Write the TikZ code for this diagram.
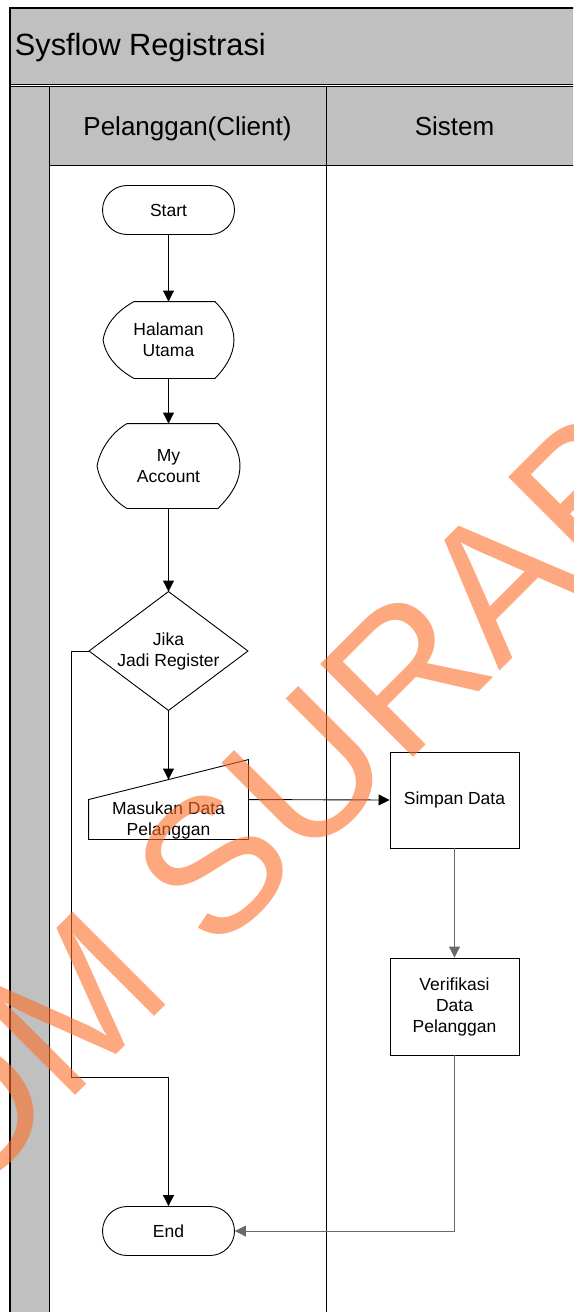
\documentclass[tikz,border=0pt]{standalone}
\usepackage{fontspec}
\setmainfont{Liberation Sans}
\usepackage{xcolor}
\usepackage{tikz}
\usetikzlibrary{arrows.meta,calc}

\definecolor{lanegray}{HTML}{C0C0C0}
\definecolor{lanegaris}{RGB}{105,105,105}
\definecolor{stempel}{RGB}{252,110,40}

\newcommand{\nodefont}{\fontsize{17.5}{21}\selectfont}
\newcommand{\judulfont}{\fontsize{30.7}{36}\selectfont}
\newcommand{\lajurfont}{\fontsize{26}{30}\selectfont}
\newcommand{\stempelfont}{\fontsize{191}{200}\selectfont}

% display shape drawn on the anchors of a plain node: #1 node, #2 left cut, #3 right cut
\newcommand{\dispshape}[3]{%
  \draw ($(#1.north west)+(#2,0)$) -- ($(#1.north east)+(-#3,0)$)
    .. controls ($(#1.north east)+(-0.5*#3,0.5*#3)$) and ($(#1.east)+(0,-0.8*#3)$) .. (#1.east)
    .. controls ($(#1.east)+(0,0.8*#3)$) and ($(#1.south east)+(-0.5*#3,-0.5*#3)$) .. ($(#1.south east)+(-#3,0)$)
    -- ($(#1.south west)+(#2,0)$)
    .. controls ($(#1.south west)+(0.55*#2,-0.25*#2)$) and ($(#1.west)+(0.1*#2,0.6*#2)$) .. (#1.west)
    .. controls ($(#1.west)+(0.1*#2,-0.6*#2)$) and ($(#1.north west)+(0.55*#2,0.25*#2)$) .. cycle;}

\begin{document}
\begin{tikzpicture}[x=1pt, y=-1pt, line width=0.9pt, >={Triangle[length=11pt,width=11pt]},
  term/.style={draw, rectangle, rounded corners=24.5pt, minimum width=132pt, minimum height=49pt, font=\nodefont},
  box/.style={draw, rectangle, minimum width=129pt, minimum height=96pt, align=center, font=\nodefont},
  plain/.style={rectangle, inner sep=0pt, align=center, font=\nodefont},
  garis/.style={->, draw=lanegaris}]
\useasboundingbox (0,0) rectangle (573,1312);
\clip (0,0) rectangle (573,1312);

% swimlane frame
\fill [lanegray] (10,8) rectangle (590,84);
\fill [lanegray] (10,86) rectangle (590,165);
\fill [lanegray] (10,86) rectangle (49,1330);
\draw [line width=1.2pt] (590,8) -- (10,8) -- (10,1330);
\draw (10,84) -- (590,84);
\draw (10,86.5) -- (590,86.5);
\draw (49,86) -- (49,1330);
\draw (49,165) -- (590,165);
\draw (326,86) -- (326,1330);

\node [anchor=base west, font=\judulfont, inner sep=0pt] (judul) at (14.5,55) {Sysflow Registrasi};
\node [anchor=base, font=\lajurfont, inner sep=0pt] (lajur1) at (187.5,135) {Pelanggan(Client)};
\node [anchor=base, font=\lajurfont, inner sep=0pt] (lajur2) at (454.5,135) {Sistem};

% pelanggan lane
\node [term] (start) at (168.5,210) {Start};
\node [plain, minimum width=130pt, minimum height=76pt] (halaman) at (168.5,340) {Halaman\\Utama};
\dispshape{halaman}{31}{19}
\node [plain, minimum width=142pt, minimum height=84pt] (akun) at (168.5,466) {My\\Account};
\dispshape{akun}{30}{22}
\node [plain, minimum width=158pt, minimum height=118pt] (jika) at (168.5,651) {Jika\\Jadi Register};
\draw (jika.north) -- (jika.east) -- (jika.south) -- (jika.west) -- cycle;
\node [plain, minimum width=159pt, minimum height=38pt] (masukan) at (168.5,820) {Masukan Data\\Pelanggan};
\draw (masukan.south west) -- ([yshift=1pt]masukan.north west) -- ([yshift=41pt]masukan.north east) -- (masukan.south east) -- cycle;
\node [term] (end) at (168.5,1231) {End};
\coordinate (balik) at (71,1077);

% sistem lane
\node [box] (simpan) at (454.5,800) {Simpan Data};
\node [box, minimum height=97pt] (verif) at (454.5,1006.5) {Verifikasi\\Data\\Pelanggan};

\path [->]
(start.south) edge (halaman.north)
(halaman.south) edge (akun.north)
(akun.south) edge (jika.north)
(jika.south) edge ([yshift=21pt]masukan.north)
([yshift=1pt]masukan.north east) edge (simpan.west);

\draw [garis] (simpan.south) -- (verif.north);
\draw [garis] (verif.south) |- (end.east);
\draw [->] (jika.west) -| (balik) -| (end.north);

% watermark
\node [rotate=45, anchor=base, font=\stempelfont, text=stempel, opacity=0.6, inner sep=0pt] (cap) at (295,876) {STIKOM SURABAYA};
\end{tikzpicture}
\end{document}
